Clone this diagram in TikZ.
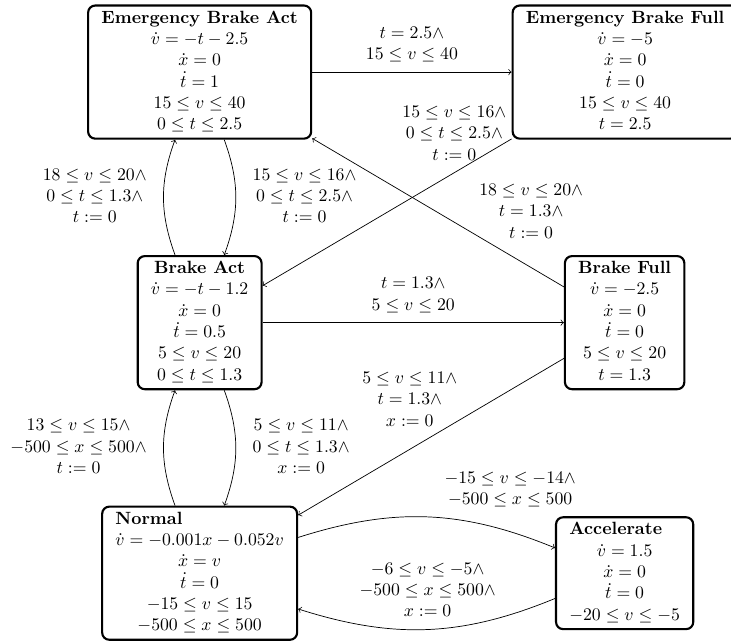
\documentclass[tikz,border=0pt]{standalone}
\usepackage{amsmath}

\begin{document}
\begin{tikzpicture}[
		mode/.style={draw, very thick, rounded corners, inner sep=1.5pt},
		trans/.style={->},
	]
	\useasboundingbox (0,0) rectangle (14.5,12.76);

	% modes
	\node[mode] (eba) at (3.96,11.33) {\begin{tabular}{c}
		\textbf{Emergency Brake Act}\\ $\dot{v} = -t - 2.5$\\ $\dot{x} = 0$\\ $\dot{t} = 1$\\ $15 \le v \le 40$\\ $0 \le t \le 2.5$
	\end{tabular}};
	\node[mode] (ebf) at (12.4,11.33) {\begin{tabular}{c}
		\textbf{Emergency Brake Full}\\ $\dot{v} = -5$\\ $\dot{x} = 0$\\ $\dot{t} = 0$\\ $15 \le v \le 40$\\ $t = 2.5$
	\end{tabular}};
	\node[mode] (ba) at (3.96,6.36) {\begin{tabular}{c}
		\textbf{Brake Act}\\ $\dot{v} = -t - 1.2$\\ $\dot{x} = 0$\\ $\dot{t} = 0.5$\\ $5 \le v \le 20$\\ $0 \le t \le 1.3$
	\end{tabular}};
	\node[mode] (bf) at (12.39,6.36) {\begin{tabular}{c}
		\textbf{Brake Full}\\ $\dot{v} = -2.5$\\ $\dot{x} = 0$\\ $\dot{t} = 0$\\ $5 \le v \le 20$\\ $t = 1.3$
	\end{tabular}};
	\node[mode] (normal) at (3.96,1.39) {\begin{tabular}{c}
		\multicolumn{1}{l}{\textbf{Normal}}\\ $\dot{v} = -0.001x - 0.052v$\\ $\dot{x} = v$\\ $\dot{t} = 0$\\ $-15 \le v \le 15$\\ $-500 \le x \le 500$
	\end{tabular}};
	\node[mode] (accel) at (12.39,1.39) {\begin{tabular}{c}
		\multicolumn{1}{l}{\textbf{Accelerate}}\\ $\dot{v} = 1.5$\\ $\dot{x} = 0$\\ $\dot{t} = 0$\\ $-20 \le v \le -5$
	\end{tabular}};

	% transitions
	\draw[trans] (eba) -- node[above] {\begin{tabular}{c}
		$t = 2.5\wedge$\\ $15 \le v \le 40$
	\end{tabular}} (ebf);
	\draw[trans] (ebf) -- node[pos=0.23, above] {\begin{tabular}{c}
		$15 \le v \le 16\wedge$\\ $0 \le t \le 2.5\wedge$\\ $t := 0$
	\end{tabular}} (ba);
	\draw[trans] (bf) -- node[pos=0.13, above=9.5pt] {\begin{tabular}{c}
		$18 \le v \le 20\wedge$\\ $t = 1.3\wedge$\\ $t := 0$
	\end{tabular}} (eba);
	\draw[trans] (ba) to[bend left=20] node[left] {\begin{tabular}{c}
		$18 \le v \le 20\wedge$\\ $0 \le t \le 1.3\wedge$\\ $t := 0$
	\end{tabular}} (eba);
	\draw[trans] (eba) to[bend left=20] node[right] {\begin{tabular}{c}
		$15 \le v \le 16\wedge$\\ $0 \le t \le 2.5\wedge$\\ $t := 0$
	\end{tabular}} (ba);
	\draw[trans] (ba) -- node[above] {\begin{tabular}{c}
		$t = 1.3\wedge$\\ $5 \le v \le 20$
	\end{tabular}} (bf);
	\draw[trans] (bf) -- node[pos=0.58, above=6pt] {\begin{tabular}{c}
		$5 \le v \le 11\wedge$\\ $t = 1.3\wedge$\\ $x := 0$
	\end{tabular}} (normal);
	\draw[trans] (normal) to[bend left=20] node[left] {\begin{tabular}{c}
		$13 \le v \le 15\wedge$\\ $-500 \le x \le 500\wedge$\\ $t := 0$
	\end{tabular}} (ba);
	\draw[trans] (ba) to[bend left=20] node[right] {\begin{tabular}{c}
		$5 \le v \le 11\wedge$\\ $0 \le t \le 1.3\wedge$\\ $x := 0$
	\end{tabular}} (normal);
	\draw[trans] (normal) to[bend left=20] node[above right] {\begin{tabular}{c}
		$-15 \le v \le -14\wedge$\\ $-500 \le x \le 500$
	\end{tabular}} (accel);
	\draw[trans] (accel) to[bend left=20] node[above] {\begin{tabular}{c}
		$-6 \le v \le -5\wedge$\\ $-500 \le x \le 500\wedge$\\ $x := 0$
	\end{tabular}} (normal);
\end{tikzpicture}
\end{document}
